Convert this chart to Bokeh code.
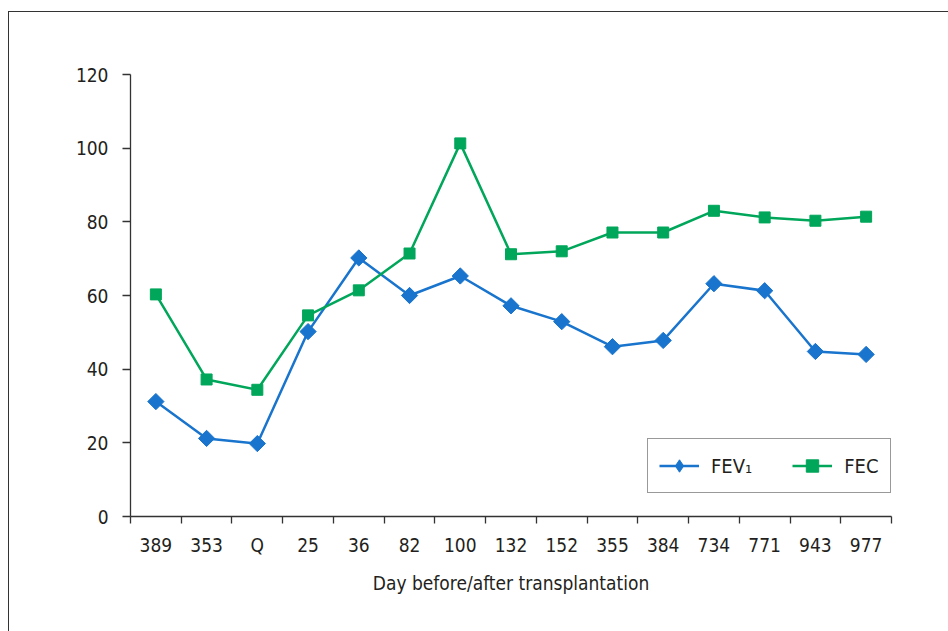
import math
from bokeh.plotting import figure
from bokeh.models import FixedTicker, Range1d, Legend
from bokeh.embed import file_html
from bokeh.resources import INLINE

categories = ["389", "353", "Q", "25", "36", "82", "100", "132", "152", "355", "384", "734", "771", "943", "977"]
fev1 = [31.2, 21.2, 19.8, 50.2, 70.2, 60.0, 65.3, 57.2, 52.9, 46.1, 47.8, 63.2, 61.3, 44.8, 44.0]
fec = [60.3, 37.2, 34.4, 54.6, 61.4, 71.4, 101.3, 71.2, 72.0, 77.1, 77.1, 83.0, 81.2, 80.3, 81.4]
y_ticks = [0, 20, 40, 60, 80, 100, 120]

FONT = "'Liberation Sans Narrow', 'DejaVu Sans Condensed', sans-serif"
TXT = "#231f20"
BLUE = "#1874cd"
GREEN = "#00a65a"

n = len(categories)
xs = [i + 0.5 for i in range(n)]

p = figure(width=940, height=620, output_backend="svg", toolbar_location=None,
           x_range=Range1d(0, n), y_range=Range1d(0, 120),
           min_border_left=121, min_border_right=58, min_border_top=62, min_border_bottom=116)
p.styles = {"border-left": "1px solid #333", "border-top": "1px solid #333",
            "margin-top": "11px", "margin-left": "8px"}
p.outline_line_color = None
p.xgrid.visible = False
p.ygrid.visible = False
p.background_fill_color = "white"
p.border_fill_color = "white"

# x axis
xa = p.xaxis[0]
xa.ticker = FixedTicker(ticks=xs, minor_ticks=list(range(n + 1)))
xa.major_label_overrides = {x: c for x, c in zip(xs, categories)}
xa.major_tick_out = 0
xa.major_tick_in = 0
xa.minor_tick_out = 7
xa.minor_tick_in = 0
xa.minor_tick_line_color = "#333"
xa.minor_tick_line_width = 1.3
xa.axis_line_color = "#333"
xa.axis_line_width = 1.3
xa.major_label_standoff = 10
xa.major_label_text_font = FONT
xa.major_label_text_font_size = "19px"
xa.major_label_text_color = TXT
xa.axis_label = "Day before/after transplantation"
xa.axis_label_text_font = FONT
xa.axis_label_text_font_size = "19px"
xa.axis_label_text_font_style = "normal"
xa.axis_label_text_color = TXT
xa.axis_label_standoff = 13

# y axis
ya = p.yaxis[0]
ya.ticker = FixedTicker(ticks=y_ticks, minor_ticks=[])
ya.major_tick_out = 8
ya.major_tick_in = 0
ya.major_tick_line_color = "#333"
ya.major_tick_line_width = 1.3
ya.axis_line_color = "#333"
ya.axis_line_width = 1.3
ya.major_label_standoff = 14
ya.major_label_text_font = FONT
ya.major_label_text_font_size = "19px"
ya.major_label_text_color = TXT

l1 = p.line(xs, fev1, line_color=BLUE, line_width=2.5)
m1 = p.scatter(xs, fev1, marker="square", angle=math.pi / 4, size=11.5,
               fill_color=BLUE, line_color=BLUE)
l2 = p.line(xs, fec, line_color=GREEN, line_width=2.5)
m2 = p.scatter(xs, fec, marker="square", size=11, fill_color=GREEN, line_color=GREEN)

# legend-only marker proxies (NaN data: not drawn in the plot)
nan = float("nan")
lg1 = p.scatter([nan], [nan], marker="diamond", size=22, fill_color=BLUE, line_color=BLUE)
lg2 = p.scatter([nan], [nan], marker="square", size=13, fill_color=GREEN, line_color=GREEN)

legend = Legend(items=[("FEV\u2081", [l1, lg1]), ("FEC", [l2, lg2])],
                orientation="horizontal", location=(517, 23))
legend.border_line_color = "#333"
legend.border_line_width = 1.3
legend.background_fill_color = "white"
legend.background_fill_alpha = 1
legend.label_text_font = FONT
legend.label_text_font_size = "20px"
legend.label_text_color = TXT
legend.glyph_width = 40
legend.glyph_height = 31
legend.label_standoff = 12
legend.spacing = 40
legend.padding = 11
legend.margin = 0
p.add_layout(legend, "center")

open("out.html", "w").write(file_html(p, INLINE))
